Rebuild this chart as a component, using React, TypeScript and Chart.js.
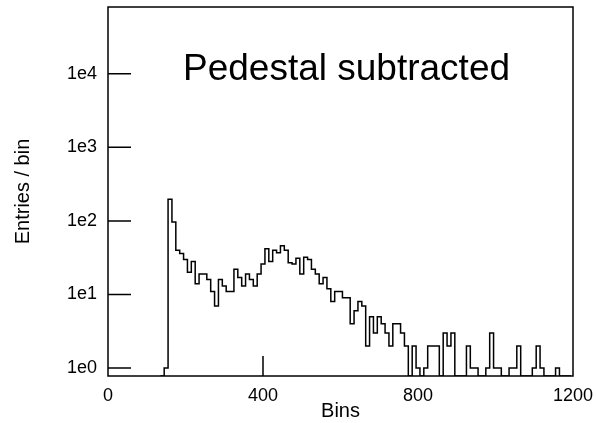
import React, { useEffect, useRef } from 'react';
import { Chart, registerables } from 'chart.js';

Chart.register(...registerables);

// ---- data ----
const TITLE = 'Pedestal subtracted';
const X_TITLE = 'Bins';
const Y_TITLE = 'Entries / bin';

// histogram: left edge of first bin and bin width (x units)
const BIN_START = 135;
const BIN_WIDTH = 10;
// entries per bin, first bin starts at 135
const counts = [
  0, 1, 197, 97, 40, 36, 30, 20, 28, 14, // 135..225
  19, 19, 16, 11, 7, 16, 13, 11, 11, 22, // 235..325
  17, 13, 19, 16, 13, 19, 26, 42, 28, 40, // 335..425
  37, 46, 40, 27, 26, 31, 19, 32, 30, 22, // 435..525
  19, 14, 17, 12, 8, 11, 11, 9, 9, 4, // 535..625
  6, 8, 7, 2, 5, 3, 5, 4, 3, 2, // 635..725
  4, 4, 3, 2, 0, 2, 1, 0, 1, 2, // 735..825
  2, 2, 0, 3, 2, 3, 0, 0, 0, 2, // 835..925
  1, 1, 0, 0, 1, 3, 1, 1, 0, 0, // 935..1025
  1, 1, 2, 0, 0, 0, 1, 2, 1, 0, // 1035..1125
  0, 0, 1, 0, 0, 0, // 1135..1185
];

const xTickValues = [0, 400, 800, 1200];
const xTickLabels = ['0', '400', '800', '1200'];
const xTickMarks = [400];
const yTickValues = [1, 10, 100, 1000, 10000];
const yTickLabels = ['1e0', '1e1', '1e2', '1e3', '1e4'];

const X_MIN = 0;
const X_MAX = 1200;
const Y_MIN = 0.78;
const Y_MAX = 80800;

const FAMILY = '"Liberation Sans", Arial, Helvetica, sans-serif';

const framePlugin = {
  id: 'frameAndTicks',
  afterDatasetsDraw(chart: any) {
    const { ctx, chartArea, scales } = chart;
    const { left, right, top, bottom } = chartArea;
    ctx.save();
    ctx.strokeStyle = '#000';
    ctx.lineWidth = 1.5;
    ctx.strokeRect(left, top, right - left, bottom - top);
    ctx.beginPath();
    for (const v of yTickValues) {
      const py = scales.y.getPixelForValue(v);
      ctx.moveTo(left, py);
      ctx.lineTo(left + 23, py);
    }
    for (const v of xTickMarks) {
      const px = scales.x.getPixelForValue(v);
      ctx.moveTo(px, bottom);
      ctx.lineTo(px, bottom - 20);
    }
    ctx.stroke();
    ctx.fillStyle = '#000';
    ctx.font = `37px ${FAMILY}`;
    ctx.textAlign = 'left';
    ctx.textBaseline = 'alphabetic';
    ctx.fillText(TITLE, left + 75, top + 73);
    ctx.restore();
  },
};

export default function App() {
  const ref = useRef<HTMLCanvasElement | null>(null);

  useEffect(() => {
    if (!ref.current) return;
    const points = counts.map((c, i) => ({
      x: BIN_START + i * BIN_WIDTH,
      y: c > 0 ? c : Y_MIN,
    }));
    const last = counts[counts.length - 1];
    points.push({ x: BIN_START + counts.length * BIN_WIDTH, y: last > 0 ? last : Y_MIN });

    const chart = new Chart(ref.current, {
      type: 'line',
      data: {
        datasets: [
          {
            data: points,
            stepped: true,
            borderColor: '#000',
            borderWidth: 1.5,
            pointRadius: 0,
            fill: false,
          },
        ],
      },
      options: {
        animation: false,
        responsive: false,
        layout: { padding: { left: 0, right: 23, top: 7, bottom: 0 } },
        plugins: {
          legend: { display: false },
          tooltip: { enabled: false },
        },
        scales: {
          x: {
            type: 'linear',
            min: X_MIN,
            max: X_MAX,
            grid: { display: false, drawTicks: false },
            border: { display: false },
            afterBuildTicks: (s: any) => {
              s.ticks = xTickValues.map((v) => ({ value: v }));
            },
            afterFit: (s: any) => {
              s.height = 47;
              s.paddingLeft = 0;
              s.paddingRight = 0;
            },
            ticks: {
              padding: 9,
              color: '#000',
              font: { size: 18, family: FAMILY },
              maxRotation: 0,
              autoSkip: false,
              callback: (_v: any, i: number) => xTickLabels[i],
            },
            title: {
              display: true,
              text: X_TITLE,
              color: '#000',
              font: { size: 20, family: FAMILY },
              padding: { top: 0, bottom: 0 },
            },
          },
          y: {
            type: 'logarithmic',
            min: Y_MIN,
            max: Y_MAX,
            grid: { display: false, drawTicks: false },
            border: { display: false },
            afterBuildTicks: (s: any) => {
              s.ticks = yTickValues.map((v) => ({ value: v, major: true }));
            },
            afterFit: (s: any) => {
              s.width = 108;
              s.paddingTop = 0;
              s.paddingBottom = 0;
            },
            ticks: {
              padding: 11,
              color: '#000',
              font: { size: 18, family: FAMILY },
              autoSkip: false,
              callback: (_v: any, i: number) => yTickLabels[i],
            },
            title: {
              display: true,
              text: Y_TITLE,
              color: '#000',
              font: { size: 20, family: FAMILY },
              padding: { top: 11, bottom: 0 },
            },
          },
        },
      },
      plugins: [framePlugin],
    } as any);
    return () => chart.destroy();
  }, []);

  return (
    <div style={{ position: 'absolute', left: 0, top: 0, width: 596, height: 423, background: '#fff' }}>
      <canvas ref={ref} width={596} height={423} style={{ display: 'block' }} />
    </div>
  );
}
